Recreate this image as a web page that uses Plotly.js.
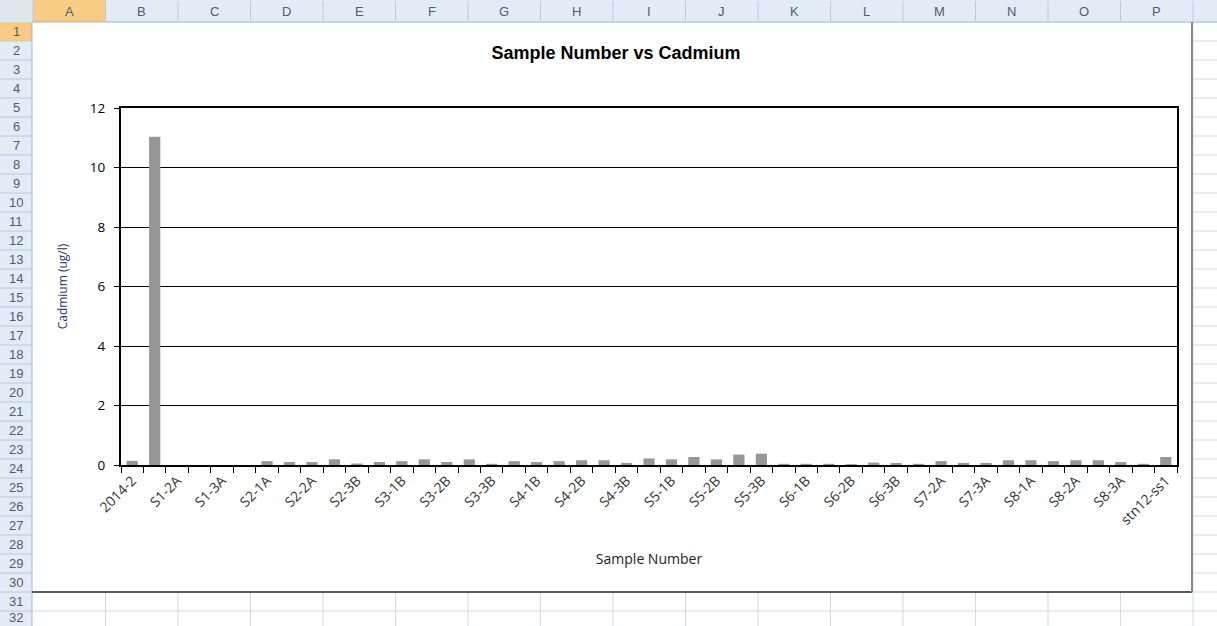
<!DOCTYPE html>
<html>
<head>
<meta charset="utf-8">
<script src="https://cdn.plot.ly/plotly-3.0.1.min.js"></script>
<style>html,body{margin:0;padding:0;background:#fff;}#chart{width:1217px;height:626px;}</style>
</head>
<body>
<div id="chart"></div>
<script>
// ---- chart data ----
var categories = ['2014-2','S1-1A','S1-2A','S1-2B','S1-3A','S1-3B','S2-1A','S2-1B','S2-2A','S2-3A','S2-3B',
  'S3-1A','S3-1B','S3-2A','S3-2B','S3-3A','S3-3B','S4-1A','S4-1B','S4-2A','S4-2B','S4-3A','S4-3B',
  'S5-1A','S5-1B','S5-2A','S5-2B','S5-3A','S5-3B','S6-1A','S6-1B','S6-2A','S6-2B','S6-3A','S6-3B',
  'S7-1A','S7-2A','S7-2B','S7-3A','S7-3B','S8-1A','S8-1B','S8-2A','S8-2B','S8-3A','S8-3B','stn12-ss1'];
var cadmium = [0.14,11.03,0,0,0,0,0.13,0.10,0.10,0.19,0.05,
  0.10,0.13,0.19,0.10,0.19,0.04,0.13,0.10,0.13,0.16,0.16,0.07,
  0.22,0.19,0.27,0.19,0.35,0.38,0.04,0.04,0.04,0.03,0.08,0.07,
  0.04,0.13,0.07,0.07,0.16,0.16,0.13,0.16,0.16,0.10,0.04,0.27];
var yTicks = [0,2,4,6,8,10,12];
var columnLetters = ['A','B','C','D','E','F','G','H','I','J','K','L','M','N','O','P'];
var rowCount = 32;

// labels: every other category is shown, as in the source
var tickText = categories.map(function(c,i){ return i % 2 === 0 ? c : ''; });

// ---- spreadsheet frame (decoration around the chart object) ----
var W = 1217, H = 626;
var PL = 121, PR = 1177, PT = 108, PB = 465;
function px(x){ return (x - PL) / (PR - PL); }
function py(y){ return (PB - y) / (PB - PT); }
var shapes = [], annotations = [];
function rect(x0,y0,x1,y1,fill,line){
  shapes.push({type:'rect',xref:'paper',yref:'paper',x0:px(x0),x1:px(x1),y0:py(y1),y1:py(y0),
    fillcolor:fill,line:{width:line?1:0,color:line||fill},layer:'above'});
}
function line(x0,y0,x1,y1,color,w){
  shapes.push({type:'line',xref:'paper',yref:'paper',x0:px(x0),x1:px(x1),y0:py(y0),y1:py(y1),
    line:{color:color,width:w||1},layer:'above'});
}
function label(x,y,t,color){
  annotations.push({xref:'paper',yref:'paper',x:px(x),y:py(y),text:t,showarrow:false,
    xanchor:'center',yanchor:'middle',font:{family:'Liberation Sans, Arial',size:13,color:color||'#4a4a4a'}});
}
var colW = 72.5, colX0 = 33, hdrH = 22, rowH = 19, rowW = 32;
// header row
rect(0,0,W,hdrH,'#e3ebf6');
rect(colX0,0,colX0+colW,hdrH,'#f8cc84');
line(0,hdrH,W,hdrH,'#9eb6ce',1);
for (var k=0;k<=17;k++){ var bx = colX0 + k*colW; if (bx < W) line(bx,1,bx,hdrH,'#b8cadf',1); }
columnLetters.forEach(function(L,k){ label(colX0 + (k+0.5)*colW, 11, L, '#4e5e72'); });
// row header column
rect(0,hdrH,rowW,H,'#e3ebf6');
rect(0,hdrH,rowW,hdrH+rowH,'#f8cc84');
line(rowW,hdrH,rowW,H,'#9eb6ce',1);
rect(0,0,rowW,hdrH,'#dfe6f0');
for (var r=1;r<=rowCount;r++){
  var ry = hdrH + r*rowH;
  line(0,ry,rowW,ry,'#b8cadf',1);
  label(16, Math.min(hdrH + (r-0.5)*rowH, H-9), String(r), '#4e5e72');
}
// cell grid outside chart object (right strip and bottom strip)
var chartR = 1192, chartB = 592;
for (var r2=1;r2<=rowCount;r2++){
  var gy = hdrH + r2*rowH;
  if (gy > chartB) line(rowW,gy,W,gy,'#d0d7e5',1);
  else line(chartR,gy,W,gy,'#d0d7e5',1);
}
for (var k2=1;k2<=17;k2++){
  var gx = colX0 + k2*colW;
  if (gx < chartR-2) line(gx,chartB,gx,H,'#d0d7e5',1);
  else if (gx < W) line(gx,hdrH,gx,H,'#d0d7e5',1);
}
// chart object border
line(rowW,chartB,chartR,chartB,'#222222',1.3);
line(chartR,hdrH,chartR,chartB,'#8a8a8a',2);

var trace = {
  type:'bar', x:categories, y:cadmium,
  marker:{color:'#969696', line:{width:0}},
  hoverinfo:'x+y'
};

var layout = {
  width:W, height:H,
  margin:{l:PL, r:W-PR, t:PT, b:H-PB, pad:0},
  paper_bgcolor:'#ffffff', plot_bgcolor:'#ffffff',
  showlegend:false, bargap:0.5,
  font:{family:'Liberation Sans, Arial', color:'#000'},
  title:{text:'<b>Sample Number vs Cadmium</b>', xref:'container', yref:'container',
    x:616/W, y:1-53/H, xanchor:'center', yanchor:'middle',
    font:{family:'Liberation Sans, Arial', size:18, color:'#000'}},
  xaxis:{
    type:'category', tickmode:'array', tickvals:categories, ticktext:tickText,
    tickson:'boundaries', ticks:'outside', ticklen:6, tickcolor:'#000', tickwidth:1,
    tickangle:-45, tickfont:{family:'Open Sans, Noto Sans', size:14, color:'#333'},
    showline:true, linecolor:'#000', linewidth:2, mirror:true,
    showgrid:false, zeroline:false, range:[-0.5, categories.length-0.5],
    title:{text:'Sample Number', standoff:27, font:{family:'Open Sans, Noto Sans', size:14, color:'#222'}}
  },
  yaxis:{
    range:[0,12], tickmode:'array', tickvals:yTicks,
    ticks:'outside', ticklen:5, tickcolor:'#000', ticklabelstandoff:6,
    tickfont:{family:'Open Sans, Noto Sans', size:13.5, color:'#000'},
    showline:true, linecolor:'#000', linewidth:2, mirror:true,
    showgrid:true, gridcolor:'#000', gridwidth:1, zeroline:false,
    title:{text:'Cadmium (ug/l)', standoff:20, font:{family:'Open Sans, Noto Sans', size:12, color:'#1f2f5f'}}
  },
  shapes:shapes, annotations:annotations
};

Plotly.newPlot('chart',[trace],layout,{displayModeBar:false, staticPlot:true});
</script>
</body>
</html>
